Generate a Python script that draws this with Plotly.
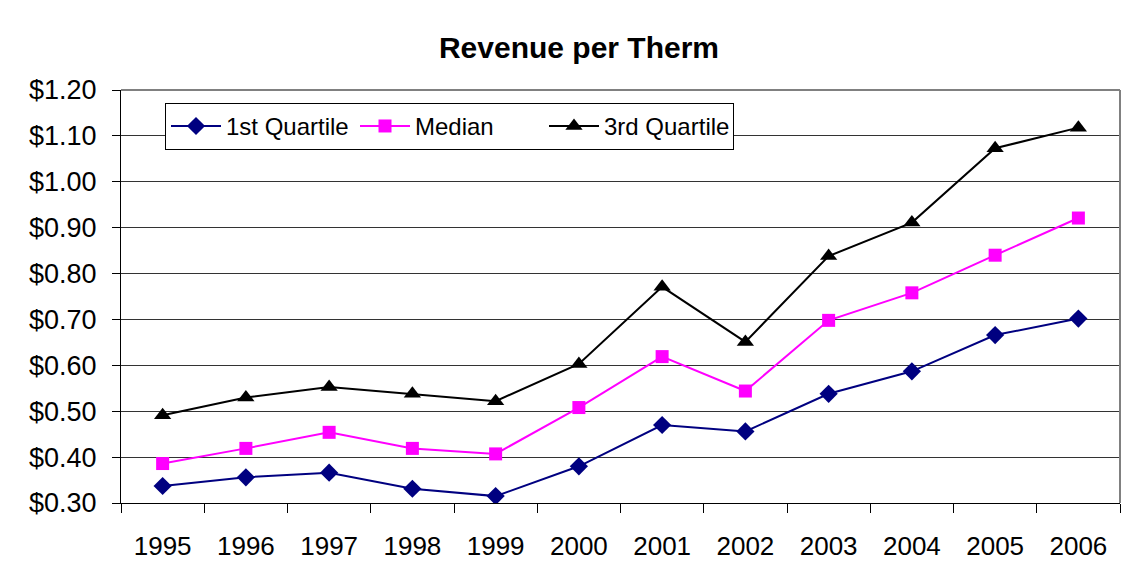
import plotly.graph_objects as go

years = ["1995", "1996", "1997", "1998", "1999", "2000", "2001", "2002", "2003", "2004", "2005", "2006"]
q1 = [0.337, 0.356, 0.366, 0.331, 0.315, 0.380, 0.470, 0.456, 0.538, 0.587, 0.666, 0.702]
median = [0.386, 0.419, 0.454, 0.419, 0.407, 0.508, 0.619, 0.544, 0.698, 0.758, 0.840, 0.921]
q3 = [0.491, 0.530, 0.553, 0.538, 0.522, 0.603, 0.771, 0.651, 0.838, 0.911, 1.073, 1.118]
y_ticks = [0.30, 0.40, 0.50, 0.60, 0.70, 0.80, 0.90, 1.00, 1.10, 1.20]

font = "Liberation Sans, Arial, sans-serif"

W, H = 1132, 565
L, R, T, B = 113, 20, 82, 66
pw, ph = W - L - R, H - T - B

fig = go.Figure()
fig.add_trace(go.Scatter(x=years, y=q1, name="1st Quartile", mode="lines+markers",
                         line=dict(color="#000080", width=2),
                         marker=dict(symbol="diamond", size=14, color="#000080")))
fig.add_trace(go.Scatter(x=years, y=median, name="Median", mode="lines+markers",
                         line=dict(color="#FF00FF", width=2),
                         marker=dict(symbol="square", size=13, color="#FF00FF")))
fig.add_trace(go.Scatter(x=years, y=q3, name="3rd Quartile", mode="lines+markers",
                         line=dict(color="#000000", width=2),
                         marker=dict(symbol="triangle-up", size=15, color="#000000")))

fig.update_layout(
    width=W, height=H,
    margin=dict(l=L, r=R, t=T, b=B),
    paper_bgcolor="white", plot_bgcolor="white",
    font=dict(family=font, size=26, color="black"),
    title=dict(text="<b>Revenue per Therm</b>", x=571 / W, xref="container", xanchor="center",
               y=1 - 39 / H, yref="container", yanchor="middle",
               font=dict(family=font, size=30, color="black")),
    showlegend=True,
    legend=dict(orientation="h", x=(157 - L) / pw, y=(499 - 95) / ph, xanchor="left", yanchor="top",
                bgcolor="white", bordercolor="black", borderwidth=1,
                font=dict(family=font, size=24, color="black"),
                itemwidth=50, tracegroupgap=0,
                entrywidth=124, entrywidthmode="pixels"),
    xaxis=dict(type="category", range=[-0.5, 11.5], showgrid=False,
               showline=True, linecolor="black", linewidth=1,
               ticks="outside", tickson="boundaries", ticklen=9, tickcolor="black",
               ticklabelstandoff=20, tickfont=dict(size=26)),
    yaxis=dict(range=[0.30, 1.20], tickvals=y_ticks,
               ticktext=["$%.2f" % v for v in y_ticks],
               showgrid=True, gridcolor="#333333", gridwidth=1,
               showline=True, linecolor="black", linewidth=1,
               ticks="outside", ticklen=8, tickcolor="black",
               ticklabelstandoff=10, tickfont=dict(size=27), zeroline=False),
    shapes=[
        dict(type="line", xref="paper", yref="paper", x0=0, x1=1, y0=1, y1=1,
             line=dict(color="#808080", width=2)),
        dict(type="line", xref="paper", yref="paper", x0=1, x1=1, y0=0, y1=1,
             line=dict(color="#808080", width=2)),
    ],
)

fig.write_html("out.html")
